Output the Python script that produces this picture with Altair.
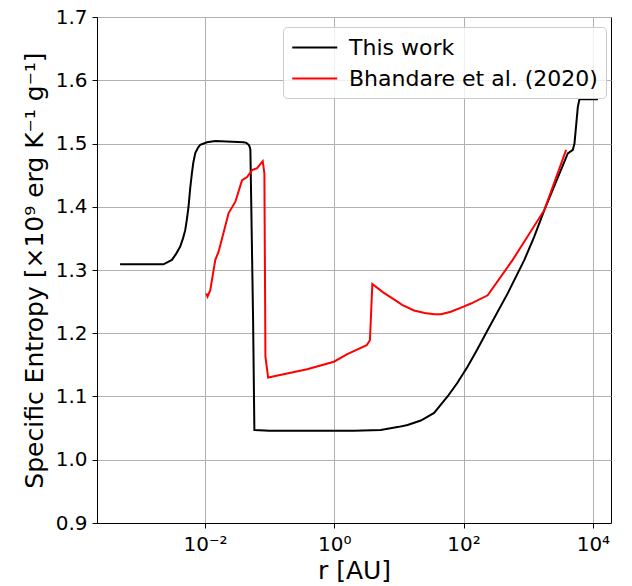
import altair as alt
import pandas as pd

# "This work" (black)
black_r = [4.86e-4, 2.28e-3, 3.08e-3, 3.55e-3, 4.14e-3, 4.57e-3, 4.95e-3, 5.25e-3, 5.57e-3,
           5.89e-3, 6.28e-3, 6.61e-3, 7.08e-3, 7.76e-3, 8.45e-3, 9.55e-3, 1.07e-2, 1.45e-2,
           3.96e-2, 4.37e-2, 4.74e-2, 4.9e-2, 5.04e-2, 5.55e-2, 5.81e-2,
           0.1, 0.316, 1.0, 2.0, 5.22, 10.0, 13.6, 21.8, 35.0, 56.5, 79.4, 115, 158, 236, 481, 871,
           1230, 1778, 4093, 4898, 5188, 5848, 6194, 11967]
black_s = [1.309, 1.309, 1.316, 1.325, 1.337, 1.350, 1.363, 1.380, 1.400,
           1.428, 1.453, 1.470, 1.485, 1.493, 1.498, 1.500, 1.502, 1.504,
           1.502, 1.501, 1.498, 1.495, 1.490, 1.221, 1.047,
           1.046, 1.046, 1.046, 1.046, 1.047, 1.052, 1.055, 1.062, 1.074, 1.100, 1.121, 1.147, 1.172, 1.205, 1.263, 1.316,
           1.352, 1.395, 1.4845, 1.490, 1.500, 1.558, 1.570, 1.570]

# Bhandare et al. (2020) (red)
red_r = [1.047e-2, 1.096e-2, 1.208e-2, 1.445e-2, 1.626e-2, 2.323e-2, 2.951e-2, 3.75e-2,
         4.48e-2, 5.36e-2, 6.40e-2, 7.82e-2, 8.30e-2, 8.61e-2, 9.48e-2, 0.381, 0.986,
         1.59, 3.17, 3.56, 3.88, 5.62, 9.48, 11.2, 17.1, 25.1, 35.0, 44.7, 63.5, 100, 130, 236,
         575, 1778, 3855]
red_s = [1.263, 1.258, 1.268, 1.316, 1.329, 1.390, 1.408, 1.442,
         1.447, 1.458, 1.461, 1.472, 1.453, 1.163, 1.130, 1.143, 1.155,
         1.167, 1.181, 1.189, 1.278, 1.265, 1.250, 1.245, 1.236, 1.232, 1.230, 1.230, 1.234, 1.242, 1.247, 1.260,
         1.316, 1.395, 1.490]

series_names = ["This work", "Bhandare et al. (2020)"]
series_colors = ["black", "red"]
x_ticks = [1e-2, 1, 1e2, 1e4]
y_ticks = [0.9, 1.0, 1.1, 1.2, 1.3, 1.4, 1.5, 1.6, 1.7]

rows = []
for i, (r, s) in enumerate(zip(black_r, black_s)):
    rows.append({"r": r, "s": s, "series": series_names[0], "i": i})
for i, (r, s) in enumerate(zip(red_r, red_s)):
    rows.append({"r": r, "s": s, "series": series_names[1], "i": i})
df = pd.DataFrame(rows)

font = "DejaVu Sans"

chart = alt.Chart(df).mark_line(strokeWidth=2, clip=True).encode(
    x=alt.X("r:Q",
            scale=alt.Scale(type="log", domain=[10 ** -3.67, 10 ** 4.28], nice=False),
            axis=alt.Axis(values=x_ticks, title="r [AU]",
                          labelExpr="datum.value < 0.1 ? '10⁻²' : datum.value < 10 ? '10⁰' : datum.value < 1000 ? '10²' : '10⁴'")),
    y=alt.Y("s:Q",
            scale=alt.Scale(domain=[0.9, 1.7], nice=False, zero=False),
            axis=alt.Axis(values=y_ticks, format=".1f",
                          title="Specific Entropy [×10⁹ erg K⁻¹ g⁻¹]")),
    color=alt.Color("series:N",
                    scale=alt.Scale(domain=series_names, range=series_colors),
                    legend=alt.Legend(title=None, orient="none", legendX=186, legendY=10,
                                      fillColor="rgba(255,255,255,0.8)", strokeColor="#cccccc",
                                      cornerRadius=4, padding=8, symbolType="M-1,0H3",
                                      symbolSize=506, symbolStrokeWidth=2,
                                      labelFontSize=22, labelFont=font, labelColor="black",
                                      labelLimit=500, labelOffset=33, rowPadding=7)),
    order="i:Q",
).properties(
    width=514, height=506,
    autosize=alt.AutoSizeParams(type="none"),
    padding={"left": 97, "top": 17, "right": 21, "bottom": 63},
).configure_view(
    stroke="black", strokeWidth=1
).configure_axis(
    labelFont=font, titleFont=font, labelFontSize=20, titleFontSize=25,
    labelColor="black", titleColor="black", titleFontWeight="normal",
    domainColor="black", tickColor="black", tickSize=5,
    gridColor="#b0b0b0", gridWidth=1, grid=True,
).configure_axisX(
    labelPadding=6, titlePadding=4,
).configure_axisY(
    labelPadding=5, titlePadding=8,
)

chart.save("out.html", embed_options={"renderer": "svg", "actions": False})
